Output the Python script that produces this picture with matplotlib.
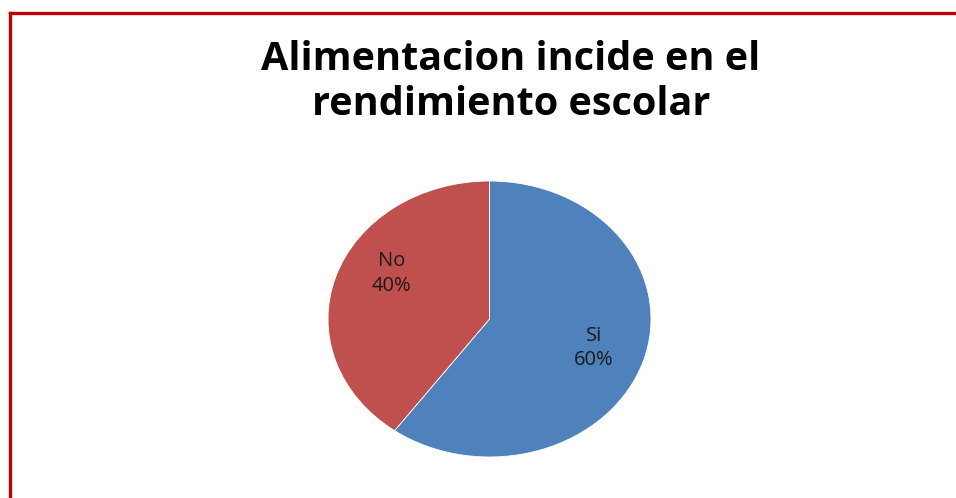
import matplotlib.pyplot as plt
from matplotlib.lines import Line2D

categories = ["Si", "No"]
values = [60, 40]
colors = ["#4F81BD", "#C0504D"]
title = "Alimentacion incide en el\nrendimiento escolar"

W, H = 956, 498
fig = plt.figure(figsize=(W / 100, H / 100), dpi=100)

# red frame, only left and top edges are visible in the crop
fig.add_artist(Line2D([10 / W, 10 / W], [0, 1 - 13 / H], color="#C00000", lw=2.4,
                      transform=fig.transFigure))
fig.add_artist(Line2D([10 / W, 1], [1 - 13 / H, 1 - 13 / H], color="#C00000", lw=2.4,
                      transform=fig.transFigure))

fig.text(511 / W, 1 - 82 / H, title, ha="center", va="center", fontsize=28.5,
         fontweight="bold", family="Open Sans", linespacing=1.2)

ax = fig.add_axes([328 / W, 41 / H, 323 / W, 276 / H])
total = sum(values)
labels = [f"{c}\n{round(v * 100 / total)}%" for c, v in zip(categories, values)]
wedges, texts = ax.pie(values, colors=colors, startangle=90, counterclock=False,
                       labels=labels, labeldistance=0.68,
                       wedgeprops=dict(edgecolor="white", linewidth=0.6),
                       textprops=dict(fontsize=14.5, family="Open Sans", color="#1a1a1a",
                                      ha="center", va="center", linespacing=1.3))
# Excel "best fit" puts the No label a bit higher than the mid-angle
x, y = texts[1].get_position()
texts[1].set_position((x + 0.04, y + 0.12))
ax.set_aspect("auto")
ax.set_xlim(-1, 1)
ax.set_ylim(-1, 1)
ax.axis("off")

fig.savefig("out.png", dpi=100)
